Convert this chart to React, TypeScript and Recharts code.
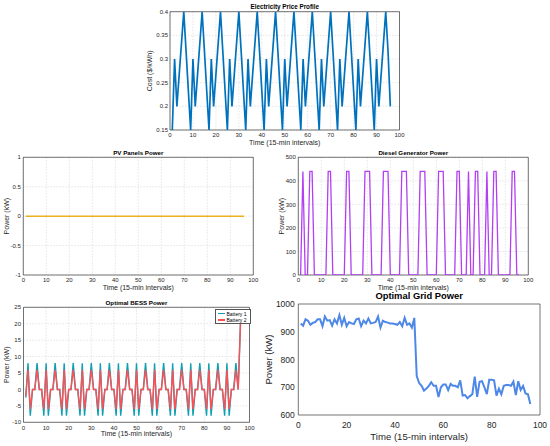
import React from 'react';
import {
  LineChart,
  Line,
  XAxis,
  YAxis,
  CartesianGrid,
  ReferenceArea,
  Legend,
} from 'recharts';

const FONT = '"Liberation Sans", Arial, Helvetica, sans-serif';
const INK = '#262626';

// time steps (15-min intervals)
const TIME = [
  1, 2, 3, 4, 5, 6, 7, 8, 9, 10, 11, 12, 13, 14, 15, 16, 17, 18, 19, 20, 21, 22, 23, 24,
  25, 26, 27, 28, 29, 30, 31, 32, 33, 34, 35, 36, 37, 38, 39, 40, 41, 42, 43, 44, 45, 46, 47, 48,
  49, 50, 51, 52, 53, 54, 55, 56, 57, 58, 59, 60, 61, 62, 63, 64, 65, 66, 67, 68, 69, 70, 71, 72,
  73, 74, 75, 76, 77, 78, 79, 80, 81, 82, 83, 84, 85, 86, 87, 88, 89, 90, 91, 92, 93, 94, 95, 96,
];

const PRICE = [
  0.15, 0.3, 0.2, 0.267, 0.333, 0.4, 0.317, 0.233,
  0.15, 0.3, 0.2, 0.267, 0.333, 0.4, 0.317, 0.233,
  0.15, 0.3, 0.2, 0.267, 0.333, 0.4, 0.317, 0.233,
  0.15, 0.3, 0.2, 0.267, 0.333, 0.4, 0.317, 0.233,
  0.15, 0.3, 0.2, 0.267, 0.333, 0.4, 0.317, 0.233,
  0.15, 0.3, 0.2, 0.267, 0.333, 0.4, 0.317, 0.233,
  0.15, 0.3, 0.2, 0.267, 0.333, 0.4, 0.317, 0.233,
  0.15, 0.3, 0.2, 0.267, 0.333, 0.4, 0.317, 0.233,
  0.15, 0.3, 0.2, 0.267, 0.333, 0.4, 0.317, 0.233,
  0.15, 0.3, 0.2, 0.267, 0.333, 0.4, 0.317, 0.233,
  0.15, 0.3, 0.2, 0.267, 0.333, 0.4, 0.317, 0.233,
  0.15, 0.3, 0.2, 0.267, 0.333, 0.4, 0.317, 0.2,
];

const PV = [
  0, 0, 0, 0, 0, 0, 0, 0, 0, 0, 0, 0, 0, 0, 0, 0, 0, 0, 0, 0, 0, 0, 0, 0,
  0, 0, 0, 0, 0, 0, 0, 0, 0, 0, 0, 0, 0, 0, 0, 0, 0, 0, 0, 0, 0, 0, 0, 0,
  0, 0, 0, 0, 0, 0, 0, 0, 0, 0, 0, 0, 0, 0, 0, 0, 0, 0, 0, 0, 0, 0, 0, 0,
  0, 0, 0, 0, 0, 0, 0, 0, 0, 0, 0, 0, 0, 0, 0, 0, 0, 0, 0, 0, 0, 0, 0, 0,
];

const DIESEL = [
  0, 440, 0, 0, 440, 440, 0, 0, 0, 0, 0, 0,
  440, 440, 0, 0, 0, 0, 0, 0, 440, 440, 0, 0,
  0, 0, 0, 0, 440, 440, 440, 0, 0, 0, 0, 0,
  440, 440, 440, 0, 0, 0, 0, 0, 440, 440, 440, 0,
  0, 0, 0, 0, 440, 440, 440, 0, 0, 0, 0, 0,
  440, 440, 440, 0, 0, 0, 0, 0, 440, 440, 0, 0,
  0, 440, 0, 0, 440, 440, 0, 0, 0, 440, 0, 0,
  440, 440, 0, 0, 0, 0, 0, 0, 440, 440, 0, 0,
];

const BATTERY_1 = [
  -2.5, 8, -8, 0, 0, 8, 0, 0, -8, 8, -8, 0, 0, 8, 0, 0,
  -8, 8, -8, 0, 0, 8, 0, 0, -8, 8, -8, 0, 0, 8, 0, 0,
  -8, 8, -8, 0, 0, 8, 0, 0, -8, 8, -8, 0, 0, 8, 0, 0,
  -8, 8, -8, 0, 0, 8, 0, 0, -8, 8, -8, 0, 0, 8, 0, 0,
  -8, 8, -8, 0, 0, 8, 0, 0, -8, 8, -8, 0, 0, 8, 0, 0,
  -8, 8, -8, 0, 0, 8, 0, 0, -8, 8, -8, 0, 0, 8, 0, 20,
];

const BATTERY_2 = [
  -2, 6, -6, 0, 0, 6, 0, 0, -6, 6, -6, 0, 0, 6, 0, 0,
  -6, 6, -6, 0, 0, 6, 0, 0, -6, 6, -6, 0, 0, 6, 0, 0,
  -6, 6, -6, 0, 0, 6, 0, 0, -6, 6, -6, 0, 0, 6, 0, 0,
  -6, 6, -6, 0, 0, 6, 0, 0, -6, 6, -6, 0, 0, 6, 0, 0,
  -6, 6, -6, 0, 0, 6, 0, 0, -6, 6, -6, 0, 0, 6, 0, 0,
  -6, 6, -6, 0, 0, 6, 0, 0, -6, 6, -6, 0, 0, 6, 0, 20,
];

const GRID = [
  930, 922, 945, 940, 925, 932, 935, 945, 945, 920, 955, 940,
  942, 922, 945, 930, 960, 925, 950, 920, 935, 930, 928, 945,
  948, 920, 940, 930, 948, 930, 932, 935, 955, 915, 940, 935,
  933, 930, 930, 928, 925, 935, 920, 950, 925, 930, 915, 950,
  740, 715, 705, 688, 695, 705, 718, 705, 705, 665, 700, 710,
  710, 690, 712, 705, 705, 700, 725, 670, 672, 660, 668, 675,
  738, 665, 720, 722, 700, 675, 727, 727, 725, 670, 695, 675,
  705, 708, 708, 705, 720, 672, 722, 690, 705, 678, 675, 640,
];

const X_TICKS_10 = [0, 10, 20, 30, 40, 50, 60, 70, 80, 90, 100];
const X_TICKS_20 = [0, 20, 40, 60, 80, 100];
const PRICE_TICKS = [0.15, 0.2, 0.25, 0.3, 0.35, 0.4];
const PV_TICKS = [-1, -0.5, 0, 0.5, 1];
const DIESEL_TICKS = [0, 100, 200, 300, 400, 500];
const BESS_TICKS = [-10, -5, 0, 5, 10, 15, 20, 25];
const GRID_TICKS = [600, 700, 800, 900, 1000];

const data = TIME.map((t, i) => ({
  t,
  price: PRICE[i],
  pv: PV[i],
  diesel: DIESEL[i],
  b1: BATTERY_1[i],
  b2: BATTERY_2[i],
  grid: GRID[i],
}));

interface PanelProps {
  left: number;
  top: number;
  width: number;
  height: number;
  plot: [number, number, number, number]; // x0, y0, x1, y1 on the page
  title: string;
  titleY: number;
  titleSize: number;
  xLabel: string;
  xLabelY: number;
  yLabel: string;
  yLabelX: number;
  labelSize: number;
  tickSize: number;
  xTickGap: number;
  yTickGap: number;
  xTicks: number[];
  yTicks: number[];
  yDomain: [number, number];
  grid?: boolean;
  children?: React.ReactNode;
}

const Panel: React.FC<PanelProps> = (p) => {
  const [x0, y0, x1, y1] = p.plot;
  const margin = { top: y0 - p.top, right: p.left + p.width - x1, left: 0, bottom: 0 };
  const yAxisWidth = x0 - p.left;
  const xAxisHeight = p.top + p.height - y1;
  const cx = (x0 + x1) / 2;
  const cy = (y0 + y1) / 2;

  const xLabelContent = () => (
    <text
      x={cx - p.left}
      y={p.xLabelY - p.top}
      textAnchor="middle"
      dominantBaseline="central"
      fontSize={p.labelSize}
      fontFamily={FONT}
      fill={INK}
    >
      {p.xLabel}
    </text>
  );
  const yLabelContent = () => {
    const lx = p.yLabelX - p.left;
    const ly = cy - p.top;
    return (
      <text
        x={lx}
        y={ly}
        transform={`rotate(-90 ${lx} ${ly})`}
        textAnchor="middle"
        dominantBaseline="central"
        fontSize={p.labelSize}
        fontFamily={FONT}
        fill={INK}
      >
        {p.yLabel}
      </text>
    );
  };

  return (
    <div style={{ position: 'absolute', left: p.left, top: p.top, width: p.width, height: p.height }}>
      <div
        style={{
          position: 'absolute',
          left: cx - p.left - 120,
          width: 240,
          top: p.titleY - p.top - p.titleSize * 0.6,
          lineHeight: `${p.titleSize * 1.2}px`,
          fontSize: p.titleSize,
          fontWeight: 'bold',
          fontFamily: FONT,
          color: '#000',
          textAlign: 'center',
          zIndex: 2,
        }}
      >
        {p.title}
      </div>
      <LineChart width={p.width} height={p.height} data={data} margin={margin}>
        {p.grid && <CartesianGrid stroke="#d4d4d4" strokeWidth={0.6} strokeDasharray="1.5 1.5" />}
        <XAxis
          type="number"
          dataKey="t"
          domain={[0, 100]}
          ticks={p.xTicks}
          interval={0}
          height={xAxisHeight}
          axisLine={false}
          tickLine={false}
          tickSize={0}
          tickMargin={p.xTickGap}
          tick={{ fontSize: p.tickSize, fill: INK, fontFamily: FONT }}
          label={{ content: xLabelContent }}
        />
        <YAxis
          type="number"
          domain={p.yDomain}
          ticks={p.yTicks}
          interval={0}
          width={yAxisWidth}
          allowDataOverflow
          axisLine={false}
          tickLine={false}
          tickSize={0}
          tickMargin={p.yTickGap}
          tick={{ fontSize: p.tickSize, fill: INK, fontFamily: FONT }}
          label={{ content: yLabelContent }}
        />
        {p.children}
        <ReferenceArea
          x1={0}
          x2={100}
          y1={p.yDomain[0]}
          y2={p.yDomain[1]}
          fill="none"
          stroke="#3a3a3a"
          strokeWidth={0.7}
          ifOverflow="visible"
        />
      </LineChart>
    </div>
  );
};

const TEAL = '#0E9FB3';
const SALMON = '#FF4F55';

const BessLegend = (props: any) => {
  const items = props.payload || [];
  return (
    <div
      style={{
        border: '0.7px solid #555',
        background: '#fff',
        padding: '0.5px 2px 0.5px 2px',
        fontFamily: FONT,
        fontSize: 5,
        lineHeight: '6.2px',
        color: '#000',
        width: 30,
      }}
    >
      {items.map((it: any) => (
        <div key={it.value} style={{ display: 'flex', alignItems: 'center' }}>
          <span style={{ display: 'inline-block', width: 7, height: 1.4, background: it.color, marginRight: 1.5 }} />
          <span>{it.value}</span>
        </div>
      ))}
    </div>
  );
};

export default function App() {
  React.useEffect(() => {
    document.body.style.margin = '0';
  }, []);
  return (
    <div style={{ position: 'relative', width: 550, height: 446, background: '#fff', overflow: 'hidden' }}>
      <Panel
        left={140}
        top={0}
        width={270}
        height={147}
        plot={[170, 11.7, 399.5, 130]}
        title="Electricity Price Profile"
        titleY={6.5}
        titleSize={6.3}
        xLabel="Time (15-min intervals)"
        xLabelY={142.4}
        yLabel="Cost ($/kWh)"
        yLabelX={150}
        labelSize={7}
        tickSize={6}
        xTickGap={3}
        yTickGap={2}
        xTicks={X_TICKS_10}
        yTicks={PRICE_TICKS}
        yDomain={[0.15, 0.4]}
        grid
      >
        <Line type="linear" dataKey="price" stroke="#0072BD" strokeWidth={1.7} dot={false} isAnimationActive={false} />
      </Panel>

      <Panel
        left={0}
        top={147}
        width={265}
        height={148}
        plot={[23.3, 157.3, 253.3, 275]}
        title="PV Panels Power"
        titleY={152.7}
        titleSize={6.2}
        xLabel="Time (15-min intervals)"
        xLabelY={287}
        yLabel="Power (kW)"
        yLabelX={6.5}
        labelSize={7}
        tickSize={6}
        xTickGap={3}
        yTickGap={2.5}
        xTicks={X_TICKS_10}
        yTicks={PV_TICKS}
        yDomain={[-1, 1]}
        grid
      >
        <Line type="linear" dataKey="pv" stroke="#EDB120" strokeWidth={1.5} dot={false} isAnimationActive={false} />
      </Panel>

      <Panel
        left={272}
        top={147}
        width={278}
        height={148}
        plot={[298.3, 157.3, 528.3, 275]}
        title="Diesel Generator Power"
        titleY={152.7}
        titleSize={6.2}
        xLabel="Time (15-min intervals)"
        xLabelY={287}
        yLabel="Power (kW)"
        yLabelX={281.5}
        labelSize={7}
        tickSize={6}
        xTickGap={3}
        yTickGap={2.5}
        xTicks={X_TICKS_10}
        yTicks={DIESEL_TICKS}
        yDomain={[0, 500]}
        grid
      >
        <Line type="linear" dataKey="diesel" stroke="#B23FF2" strokeWidth={1.3} dot={false} isAnimationActive={false} />
      </Panel>

      <Panel
        left={0}
        top={296}
        width={258}
        height={150}
        plot={[23.5, 307.3, 249.5, 422.3]}
        title="Optimal BESS Power"
        titleY={302.7}
        titleSize={6.2}
        xLabel="Time (15-min intervals)"
        xLabelY={433.8}
        yLabel="Power (kW)"
        yLabelX={6.5}
        labelSize={7}
        tickSize={6}
        xTickGap={3}
        yTickGap={2.5}
        xTicks={X_TICKS_10}
        yTicks={BESS_TICKS}
        yDomain={[-10, 25]}
        grid
      >
        <Line type="linear" dataKey="b1" name="Battery 1" stroke={TEAL} strokeWidth={1.4} dot={false} isAnimationActive={false} />
        <Line type="linear" dataKey="b2" name="Battery 2" stroke={SALMON} strokeWidth={1.4} dot={false} isAnimationActive={false} />
        <Legend
          layout="vertical"
          align="center"
          verticalAlign="middle"
          content={<BessLegend />}
          wrapperStyle={{ top: 13, left: 215, width: 34 }}
        />
      </Panel>

      <Panel
        left={258}
        top={296}
        width={292}
        height={150}
        plot={[298.3, 304, 540, 415]}
        title="Optimal Grid Power"
        titleY={296}
        titleSize={9.4}
        xLabel="Time (15-min intervals)"
        xLabelY={436}
        yLabel="Power (kW)"
        yLabelX={268.5}
        labelSize={9.6}
        tickSize={8.5}
        xTickGap={6.5}
        yTickGap={3.5}
        xTicks={X_TICKS_20}
        yTicks={GRID_TICKS}
        yDomain={[600, 1000]}
      >
        <Line type="linear" dataKey="grid" stroke="#4D87E8" strokeWidth={2} dot={false} isAnimationActive={false} />
      </Panel>
    </div>
  );
}
